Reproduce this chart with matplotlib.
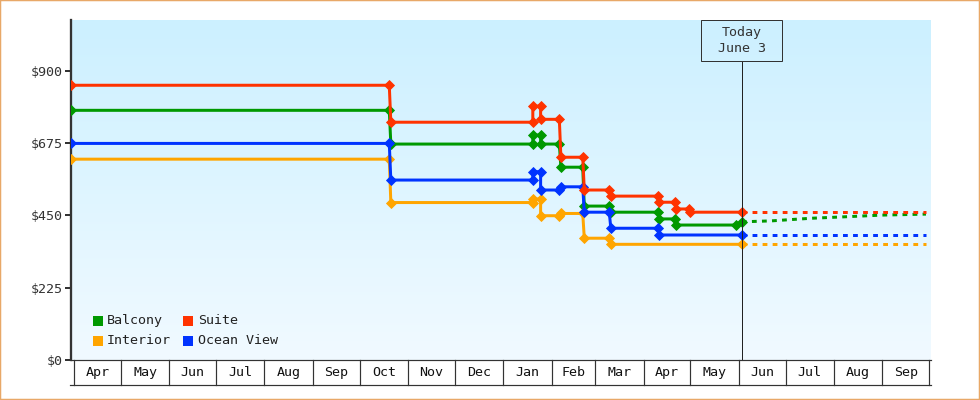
import pandas as pd
import numpy as np
import matplotlib
matplotlib.use('Agg')
import matplotlib.pyplot as plt
import matplotlib.dates as mdates
import matplotlib.patches as mpatches
import matplotlib.ticker as mticker
from matplotlib.colors import LinearSegmentedColormap

# ─────────────────────────────────────────────
# dados (preço por categoria de cabine)
# ─────────────────────────────────────────────
balcony_dates = ['2024-03-30', '2024-10-20', '2024-10-21', '2025-01-20', '2025-01-20',
                 '2025-01-25', '2025-01-25', '2025-02-06', '2025-02-07', '2025-02-21',
                 '2025-02-22', '2025-03-10', '2025-03-11', '2025-04-10', '2025-04-11',
                 '2025-04-21', '2025-04-22', '2025-05-30', '2025-06-03']
balcony_prices = [777, 777, 672, 672, 700, 700, 672, 672, 600, 600,
                  479, 479, 460, 460, 439, 439, 420, 420, 430]

interior_dates = ['2024-03-30', '2024-10-20', '2024-10-21', '2025-01-20', '2025-01-20',
                  '2025-01-25', '2025-01-25', '2025-02-06', '2025-02-07', '2025-02-21',
                  '2025-02-22', '2025-03-10', '2025-03-11', '2025-06-03']
interior_prices = [625, 625, 490, 490, 501, 501, 449, 449, 456, 456,
                   379, 379, 360, 360]

ocean_dates = ['2024-03-30', '2024-10-20', '2024-10-21', '2025-01-20', '2025-01-20',
               '2025-01-25', '2025-01-25', '2025-02-06', '2025-02-07', '2025-02-21',
               '2025-02-22', '2025-03-10', '2025-03-11', '2025-04-10', '2025-04-11',
               '2025-06-03']
ocean_prices = [674, 674, 560, 560, 586, 586, 529, 529, 539, 539,
                460, 460, 410, 410, 389, 389]

suite_dates = ['2024-03-30', '2024-10-20', '2024-10-21', '2025-01-20', '2025-01-20',
               '2025-01-25', '2025-01-25', '2025-02-06', '2025-02-07', '2025-02-21',
               '2025-02-22', '2025-03-10', '2025-03-11', '2025-04-10', '2025-04-11',
               '2025-04-21', '2025-04-22', '2025-04-30', '2025-05-01', '2025-06-03']
suite_prices = [855, 855, 740, 740, 790, 790, 749, 749, 631, 631,
                529, 529, 510, 510, 491, 491, 470, 470, 460, 460]

# projeção (tracejado depois de hoje)
balcony_proj_dates = ['2025-06-03', '2025-06-22', '2025-07-17', '2025-08-05', '2025-09-01', '2025-09-29']
balcony_proj_prices = [430, 433, 441, 445, 451, 454]
interior_proj_dates = ['2025-06-03', '2025-09-29']
interior_proj_prices = [360, 360]
ocean_proj_dates = ['2025-06-03', '2025-09-29']
ocean_proj_prices = [389, 389]
suite_proj_dates = ['2025-06-03', '2025-09-29']
suite_proj_prices = [460, 460]

series_names = ['Balcony', 'Interior', 'Ocean View', 'Suite']
series_colors = ['#009900', '#ffa500', '#0033ff', '#ff3300']

month_labels = ['Apr', 'May', 'Jun', 'Jul', 'Aug', 'Sep', 'Oct', 'Nov', 'Dec',
                'Jan', 'Feb', 'Mar', 'Apr', 'May', 'Jun', 'Jul', 'Aug', 'Sep']
y_ticks = [0, 225, 450, 675, 900]
today = '2025-06-03'
today_label = 'Today\nJune 3'

# ─────────────────────────────────────────────
# figura
# ─────────────────────────────────────────────
FONT = 'DejaVu Sans Mono'
FS = 9.6
DARK = '#333333'
PX = 72 / 100  # 1 px em pontos

fig = plt.figure(figsize=(9.8, 4), dpi=100)
fig.patch.set_facecolor('white')
AX_L, AX_W, AX_TOP, AX_H = 71, 859.5, 20, 340
ax = fig.add_axes([AX_L / 980, (400 - AX_TOP - AX_H) / 400, AX_W / 980, AX_H / 400])

def px(x, y):
    # pixel da imagem -> fração dos eixos
    return ((x - AX_L) / AX_W, (AX_TOP + AX_H - y) / AX_H)

# fundo em degradê
cmap = LinearSegmentedColormap.from_list('bg', ['#f1faff', '#ccf0ff'])
grad = np.linspace(0, 1, 256).reshape(-1, 1)
ax.imshow(grad, extent=[0, 1, 0, 1], transform=ax.transAxes, origin='lower',
          cmap=cmap, aspect='auto', zorder=0)

all_dates = [balcony_dates, interior_dates, ocean_dates, suite_dates]
all_prices = [balcony_prices, interior_prices, ocean_prices, suite_prices]
proj_dates = [balcony_proj_dates, interior_proj_dates, ocean_proj_dates, suite_proj_dates]
proj_prices = [balcony_proj_prices, interior_proj_prices, ocean_proj_prices, suite_proj_prices]

for d, p, c in zip(proj_dates, proj_prices, series_colors):
    ax.plot(pd.to_datetime(d), p, color=c, lw=3 * PX, dashes=(1.6, 1.75),
            solid_capstyle='butt', dash_capstyle='butt', zorder=2)

for d, p, c in zip(all_dates, all_prices, series_colors):
    ax.plot(pd.to_datetime(d), p, color=c, lw=3 * PX, marker='D', ms=4.8,
            mec=c, mew=0.6, zorder=3)

x0 = mdates.date2num(pd.Timestamp('2024-03-30'))
x1 = mdates.date2num(pd.Timestamp('2025-10-01')) + 0.9
ax.set_xlim(x0, x1)
ax.set_ylim(0, 340 * 225 / 72.3)

# eixos
for s in ['top', 'right']:
    ax.spines[s].set_visible(False)
ax.spines['left'].set_color(DARK)
ax.spines['left'].set_linewidth(2.3 * PX)
ax.spines['bottom'].set_color(DARK)
ax.spines['bottom'].set_linewidth(1.2 * PX)
ax.set_xticks([])
ax.set_yticks(y_ticks)
ax.yaxis.set_major_formatter(mticker.FuncFormatter(lambda v, _: f'${v:,.0f}'))
ax.tick_params(axis='y', direction='out', length=6 * PX, width=2 * PX, color=DARK,
               labelsize=FS, labelcolor=DARK, pad=1.5)
for lbl in ax.get_yticklabels():
    lbl.set_fontfamily(FONT)

# linha de meses (células)
xt = ax.get_xaxis_transform()
bounds = pd.date_range('2024-04-01', '2025-10-01', freq='MS')
cell_bot = -24.5 / AX_H
for b in bounds:
    bx = mdates.date2num(b)
    ax.plot([bx, bx], [0, cell_bot], transform=xt, color=DARK, lw=1.2 * PX, clip_on=False)
for i, lab in enumerate(month_labels):
    mid = (mdates.date2num(bounds[i]) + mdates.date2num(bounds[i + 1])) / 2
    ax.text(mid, -12.5 / AX_H, lab, transform=xt, ha='center', va='center',
            fontsize=FS, family=FONT, color='#111111', clip_on=False)
ax.plot([px(70, 0)[0], 1.0], [cell_bot, cell_bot], transform=ax.transAxes,
        color=DARK, lw=1.2 * PX, clip_on=False)

# marcador "Today"
tx = mdates.date2num(pd.Timestamp(today))
box_bot = px(0, 60.7)[1]
ax.plot([tx, tx], [0, box_bot], transform=xt, color='#222222', lw=1 * PX, zorder=4)
day_px = AX_W / (x1 - x0)
ax.add_patch(mpatches.Rectangle((tx - 40.4 / day_px, box_bot), 80.4 / day_px, 1 - box_bot,
                                transform=xt, fill=False, edgecolor=DARK, lw=1 * PX,
                                clip_on=False, zorder=4))
ax.text(tx, (1 + box_bot) / 2, today_label, transform=xt, ha='center', va='center',
        fontsize=FS, family=FONT, color=DARK, linespacing=1.35, zorder=5)

# legenda manual
legend_order = [0, 3, 1, 2]
legend_pos = [(93.3, 106.7, 320.7), (183.3, 198.3, 320.7),
              (93.3, 106.7, 340.7), (183.3, 198.3, 340.7)]
for idx, (sx, tx_, sy) in zip(legend_order, legend_pos):
    ax0, ay0 = px(sx, sy + 5)
    ax.add_patch(mpatches.Rectangle((ax0, ay0), 10 / AX_W, 10 / AX_H, transform=ax.transAxes,
                                    facecolor=series_colors[idx], edgecolor='none', zorder=5))
    lx, ly = px(tx_, sy)
    ax.text(lx, ly, series_names[idx], transform=ax.transAxes, ha='left', va='center',
            fontsize=FS, family=FONT, color='#222222', zorder=5)

# borda laranja
fig.patches.append(mpatches.Rectangle((0, 0), 1, 1, transform=fig.transFigure, fill=False,
                                      edgecolor='#e8a868', lw=2.5 * PX))

plt.savefig('out.png', dpi=100)
plt.close()
